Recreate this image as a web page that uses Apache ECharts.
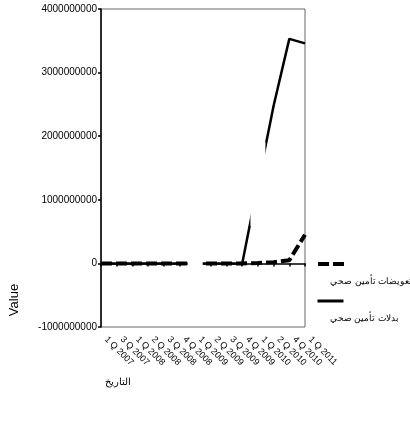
<!DOCTYPE html>
<html>
<head>
<meta charset="utf-8">
<script src="https://cdn.jsdelivr.net/npm/echarts@6/dist/echarts.min.js"></script>
<style>
html,body{margin:0;padding:0;background:#fff;}
#chart{width:410px;height:421px;}
</style>
</head>
<body>
<div id="chart"></div>
<script>
// الفصول (التاريخ)
var categories = ['1 Q 2007','3 Q 2007','1 Q 2008','2 Q 2008','3 Q 2008','4 Q 2008','1 Q 2009',
	'2 Q 2009','3 Q 2009','4 Q 2009','1 Q 2010','2 Q 2010','4 Q 2010','1 Q 2011'];
// بدلات تأمين صحي
var allowances = [0,0,0,0,0,0,0,0,0,0,1250000000,2480000000,3530000000,3460000000];
// تعويضات تأمين صحي
var compensations = [0,0,0,0,0,0,0,0,0,0,5000000,20000000,50000000,450000000];
// points where the original plot breaks the line
var gapIdx = [6, 10];

var nameA = 'تعويضات تأمين صحي';
var nameB = 'بدلات تأمين صحي';

var chart = echarts.init(document.getElementById('chart'));

var maskData = allowances.map(function (v, i) {
	return gapIdx.indexOf(i) >= 0 ? v : null;
});

function legendItem(name, top, dash, width) {
	return {
		orient: 'vertical',
		left: 311, top: top,
		itemWidth: 26, itemHeight: 8,
		selectedMode: false,
		data: [{
			name: name,
			itemStyle: { opacity: 0 },
			lineStyle: { color: '#000', width: width, type: dash, cap: 'butt' }
		}],
		formatter: function (n) { return '\n\n' + n; },
		textStyle: { fontSize: 9, color: '#000', lineHeight: 18, padding: [0, 0, 0, -19] }
	};
}

var option = {
	animation: false,
	textStyle: { fontFamily: 'Liberation Sans, Arial, sans-serif' },
	grid: {
		left: 101, right: 105, top: 9, bottom: 94,
		show: true, borderColor: '#666', borderWidth: 1
	},
	legend: [
		legendItem(nameA, 232, [11, 4], 4),
		legendItem(nameB, 269, 'solid', 3)
	],
	xAxis: {
		type: 'category',
		data: categories,
		boundaryGap: false,
		name: 'التاريخ',
		nameLocation: 'middle',
		nameGap: 50,
		nameTextStyle: { fontSize: 10, color: '#000', padding: [0, 170, 0, 0] },
		axisLine: { lineStyle: { color: '#000', width: 1.5 } },
		axisTick: { show: true, length: 3, interval: 0, lineStyle: { color: '#000', width: 1.5 } },
		axisLabel: { interval: 0, rotate: -45, margin: 6, fontSize: 9, color: '#000', padding: [0, 0, 0, 7] },
		splitLine: { show: false }
	},
	yAxis: {
		type: 'value',
		min: -1000000000,
		max: 4000000000,
		interval: 1000000000,
		name: 'Value',
		nameLocation: 'middle',
		nameRotate: 90,
		nameGap: 80,
		nameTextStyle: { fontSize: 13, color: '#000', padding: [0, 264, 0, 0] },
		axisLine: { show: true, lineStyle: { color: '#000', width: 1.5 } },
		axisTick: { show: true, length: 3, lineStyle: { color: '#000', width: 1.5 } },
		axisLabel: {
			fontSize: 10, color: '#000', margin: 4,
			formatter: function (v) { return String(v); }
		},
		splitLine: { show: false }
	},
	series: [
		{
			name: nameA,
			type: 'line',
			data: compensations,
			symbol: 'none',
			z: 2,
			lineStyle: { color: '#000', width: 4, type: [11, 4] },
			itemStyle: { color: '#000' }
		},
		{
			name: nameB,
			type: 'line',
			data: allowances,
			symbol: 'none',
			z: 3,
			lineStyle: { color: '#000', width: 2.5, type: 'solid' },
			itemStyle: { color: '#000' }
		},
		{
			name: 'gap',
			type: 'line',
			data: maskData,
			symbol: 'rect',
			symbolSize: [15, 84],
			showSymbol: true,
			silent: true,
			z: 4,
			lineStyle: { opacity: 0 },
			itemStyle: { color: '#fff', opacity: 1 }
		}
	]
};

chart.setOption(option);
</script>
</body>
</html>
